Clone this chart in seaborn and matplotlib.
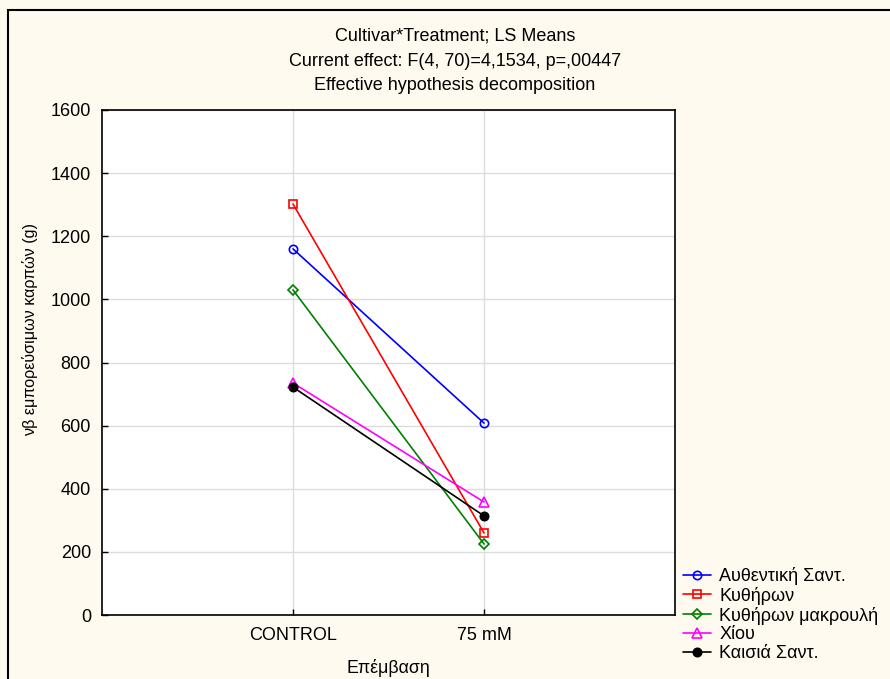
import matplotlib
matplotlib.use("Agg")
import matplotlib.pyplot as plt
import seaborn as sns
import pandas as pd
from matplotlib.patches import Rectangle

treatments = ["CONTROL", "75 mM"]
cultivars = ["Αυθεντική Σαντ.", "Κυθήρων", "Κυθήρων μακρουλή", "Χίου", "Καισιά Σαντ."]
authentiki = [1160, 608]
kythiron = [1302, 260]
kythiron_makr = [1030, 225]
chiou = [735, 358]
kaisia = [722, 314]
series = [authentiki, kythiron, kythiron_makr, chiou, kaisia]

colors = ["#0000FF", "#FF0000", "#008000", "#FF00FF", "#000000"]
markers = ["o", "s", "D", "^", "o"]
msizes = [6, 6, 5.5, 7, 6]
filled = [False, False, False, False, True]

sns.set_theme(style="white")
plt.rcParams["font.family"] = ["Liberation Sans", "DejaVu Sans"]
plt.rcParams["text.color"] = "black"
plt.rcParams["axes.labelcolor"] = "black"

bg = "#FFFAEF"
fig = plt.figure(figsize=(8.9, 6.79), dpi=100, facecolor=bg)
ax = fig.add_axes([102/890, 1-615/679, (675-102)/890, (615-110)/679])
ax.set_facecolor("white")

rows = []
for name, vals in zip(cultivars, series):
    for i, v in enumerate(vals):
        rows.append({"Cultivar": name, "pos": i, "value": v})
df = pd.DataFrame(rows)

for name, c, m, ms, f in zip(cultivars, colors, markers, msizes, filled):
    sub = df[df["Cultivar"] == name]
    sns.lineplot(data=sub, x="pos", y="value", ax=ax, color=c, marker=m,
                 markersize=ms,
                 markerfacecolor=c if f else "none", markeredgecolor=c,
                 markeredgewidth=1.2, linewidth=1.2, label=name, zorder=3)

ax.set_xlim(-1, 2)
ax.set_ylim(0, 1600)
ax.set_xticks(range(len(treatments)))
ax.set_xticklabels(treatments)
ax.set_yticks(range(0, 1601, 200))
ax.grid(True, color="#DCDCDC", linewidth=1)
ax.set_axisbelow(True)
ax.tick_params(axis="both", direction="in", length=4, width=1, colors="black",
               labelsize=13, bottom=True, left=True)
ax.tick_params(axis="x", pad=9)
ax.tick_params(axis="y", pad=8)
for s in ax.spines.values():
    s.set_color("black")
    s.set_linewidth(1.2)
ax.set_xlabel("Επέμβαση", fontsize=12.8)
ax.xaxis.set_label_coords(0.5, -(668 - 615) / 505, transform=ax.transAxes)
ax.xaxis.label.set_va("center")
ax.set_ylabel("νβ εμπορεύσιμων καρπών (g)", fontsize=11.6)
ax.yaxis.set_label_coords((30 - 102) / 573, (615 - 329) / 505)
ax.yaxis.label.set_va("center")

leg = ax.legend(loc="upper left", bbox_to_anchor=(683/890, 1-567/679),
                bbox_transform=fig.transFigure, frameon=False, fontsize=13,
                handlelength=1.55, handletextpad=0.45, labelspacing=0.1,
                borderaxespad=0, borderpad=0)

fig.text(0.511, 1-36/679, "Cultivar*Treatment; LS Means", ha="center", va="center", fontsize=13)
fig.text(0.511, 1-61/679, "Current effect: F(4, 70)=4,1534, p=,00447", ha="center", va="center", fontsize=13)
fig.text(0.511, 1-86/679, "Effective hypothesis decomposition", ha="center", va="center", fontsize=13)

fig.patches.append(Rectangle((8/890, -0.1), 1.2, 1 - 10/679 + 0.1,
                             transform=fig.transFigure, fill=False,
                             edgecolor="black", linewidth=1.5, zorder=10))

fig.savefig("out.png", dpi=100, facecolor=bg)
